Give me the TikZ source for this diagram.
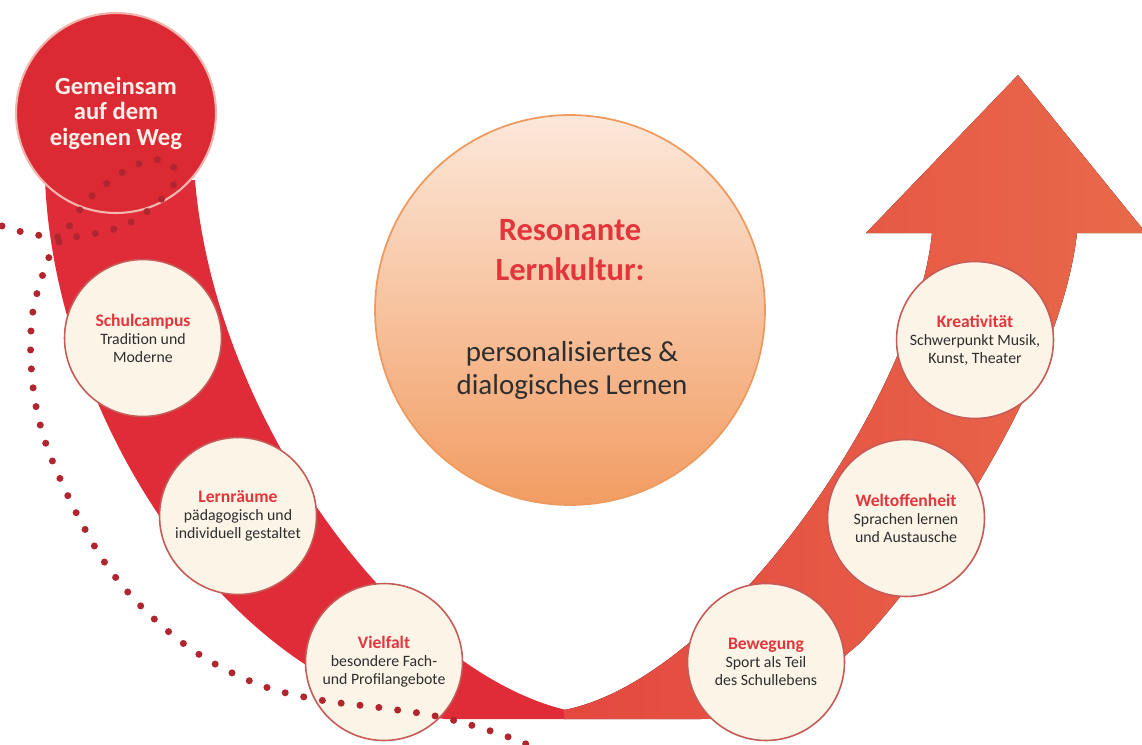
\documentclass[tikz,border=0pt]{standalone}
\usepackage{fontspec}
\setmainfont{Carlito}
\usepackage{tikz}
\usetikzlibrary{positioning, shapes, backgrounds, calc}
\definecolor{bandred}{HTML}{E02C39}
\definecolor{bandmid}{HTML}{E44840}
\definecolor{bandorange}{HTML}{E8694A}
\definecolor{homered}{HTML}{DC2A35}
\definecolor{homerim}{HTML}{F2B6AE}
\definecolor{homelight}{HTML}{FCF0E8}
\definecolor{cream}{HTML}{FBF4E7}
\definecolor{stationrim}{HTML}{C65A57}
\definecolor{titlered}{HTML}{E2363C}
\definecolor{darktext}{HTML}{2E2E2E}
\definecolor{dotred}{HTML}{B0262F}
\definecolor{peachlight}{HTML}{FCE8DA}
\definecolor{peachdark}{HTML}{F29C62}
\definecolor{peachrim}{HTML}{EE9A5E}
\tikzstyle{station}=[%
      circle, draw=stationrim, line width=0.9pt, fill=cream,
      minimum size=3.14cm, inner sep=0pt, align=center, text=darktext,
      font=\fontsize{9}{10.2}\selectfont
]
\tikzstyle{home}=[%
      circle, draw=homerim, line width=1.2pt, fill=homered,
      minimum size=4cm, inner sep=0pt, align=center, text=homelight,
      font=\fontsize{14}{14.5}\selectfont\bfseries
]
\tikzstyle{hub}=[%
      circle, draw=peachrim, line width=1pt, top color=peachlight, bottom color=peachdark,
      minimum size=7.8cm, inner sep=0pt
]
\tikzstyle{hubtitle}=[text=titlered, align=center, font=\fontsize{18.5}{22.7}\selectfont\bfseries]
\tikzstyle{hubtext}=[text=darktext, align=center, font=\fontsize{16.5}{18.7}\selectfont]
\tikzstyle{trail}=[draw=dotred, line width=4pt, line cap=round, dash pattern=on 0pt off 10.8pt]
\newcommand{\stationtitle}[1]{{\color{titlered}\fontsize{10}{10.2}\selectfont\bfseries #1}}

\begin{document}
\begin{tikzpicture}[x=0.02cm, y=-0.02cm]
    \useasboundingbox (0,0) rectangle (1142,744);
    \clip (0,0) rectangle (1142,744);

    % the way: red down, orange up into the arrow
    \fill[bandred] (45,180) .. controls (55,420) and (230,690) .. (445,719)
        -- (566,719) -- (566,710) .. controls (400,670) and (215,420) .. (195,180) -- cycle;
    \fill[left color=bandmid, right color=bandorange]
        (564,710) .. controls (720,680) and (915,400) .. (932,233)
        -- (866,233) -- (1018,75) -- (1146,233) -- (1077,233)
        .. controls (1062,370) and (940,560) .. (860,643)
        .. controls (800,695) and (760,719) .. (700,719) -- (564,719) -- cycle;

    \node[home] (start) at (116,113) {Gemeinsam\\auf dem\\eigenen Weg};

    \node[hub]      (hub)      at (570,310) {};
    \node[hubtitle] (hubtitle) at (570,250) {Resonante\\Lernkultur:};
    \node[hubtext]  (hubtext)  at (572,370) {personalisiertes \&\\dialogisches Lernen};

    \node[station] (campus)  at (143,338) {\stationtitle{Schulcampus}\\Tradition und\\Moderne};
    \node[station] (raeume)  at (238,516) {\stationtitle{Lernräume}\\pädagogisch und\\individuell gestaltet};
    \node[station] (vielfalt) at (384,662) {\stationtitle{Vielfalt}\\besondere Fach-\\und Profilangebote};
    \node[station] (bewegung) at (766,662) {\stationtitle{Bewegung}\\Sport als Teil\\des Schullebens};
    \node[station] (welt)    at (906,518) {\stationtitle{Weltoffenheit}\\Sprachen lernen\\und Austausche};
    \node[station] (kreativ) at (975,340) {\stationtitle{Kreativität}\\Schwerpunkt Musik,\\Kunst, Theater};

    % dotted trail
    \draw[trail] plot[smooth, tension=0.6] coordinates {
        (2,226) (26,233) (45,236) (64,237) (83,236) (102,232) (121,227) (138,218)
        (155,205) (170,190) (177,175) (167,161) (148,161) (130,168) (114,178)
        (99,190) (85,203) (73,220) (63,237) (52,251) (45,268) (39,287) (34,305)
        (31,330) (31,363) (35,401) (44,438) (58,474) (80,520) (110,570) (150,615)
        (200,655) (260,685) (320,700) (383,708) (440,717) (500,734) (540,750)};
\end{tikzpicture}
\end{document}
